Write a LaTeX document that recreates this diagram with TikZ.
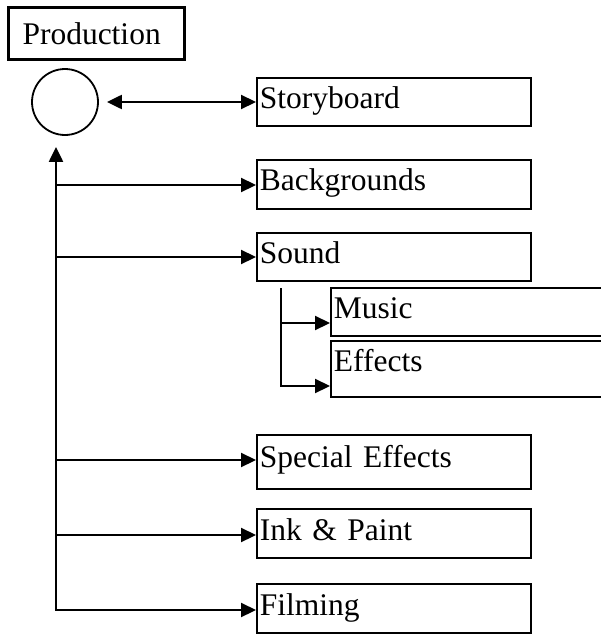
\documentclass[tikz,border=0pt]{standalone}
\usepackage{fontspec}
\setmainfont{Liberation Serif}
\usetikzlibrary{arrows.meta}
\begin{document}
\begin{tikzpicture}[x=1pt,y=-1pt,
  >={Triangle[length=15pt,width=14pt]},
  box/.style={draw, line width=1.8pt, rectangle, anchor=north west, inner xsep=3pt, inner ysep=0pt,
              text height=31pt, align=left, font=\fontsize{31.5}{36}\selectfont},
  conn/.style={line width=2.2pt}]
\clip (0,0) rectangle (601,634);
\useasboundingbox (0,0) rectangle (601,634);
% title
\node[draw, line width=3pt, rectangle, anchor=north west, inner xsep=14.5pt, inner ysep=0pt,
      text width=147pt, text height=36.5pt, text depth=15.5pt, align=left,
      font=\fontsize{31.5}{36}\selectfont] (prod) at (6.5,6.5) {Production};
\node[circle, draw, line width=1.8pt, minimum size=66pt, inner sep=0pt] (circ) at (65,102) {};
% boxes
\node[box, text width=268pt, text depth=17pt] (story) at (256,77) {Storyboard};
\node[box, text width=268pt, text depth=18pt] (bg) at (256,159) {Backgrounds};
\node[box, text width=268pt, text depth=17pt] (sound) at (256,232) {Sound};
\node[box, text width=300pt, text depth=17pt] (music) at (330,287) {Music};
\node[box, text width=300pt, text depth=25pt] (eff) at (330,340) {Effects};
\node[box, text width=268pt, text depth=21pt, text height=33pt] (spec) at (256,434) {Special Effects};
\node[box, text width=268pt, text depth=17pt, text height=32pt] (ink) at (256,508) {Ink \& Paint};
\node[box, text width=268pt, text depth=17pt, text height=32pt] (film) at (256,583) {Filming};
% connectors
\draw[conn, <->, shorten <=8pt] (circ.east) -- (story.west |- circ.east);
\coordinate (tb) at (56,610);
\coordinate (bB) at (56,185);
\coordinate (bS) at (56,257);
\coordinate (bX) at (56,460);
\coordinate (bI) at (56,535);
\draw[conn, <->, shorten >=11pt] (film.west |- tb) -- (tb) -- (tb |- circ.south);
\draw[conn, ->] (bB) -- (bg.west |- bB);
\draw[conn, ->] (bS) -- (sound.west |- bS);
\draw[conn, ->] (bX) -- (spec.west |- bX);
\draw[conn, ->] (bI) -- (ink.west |- bI);
\coordinate (sT) at (281,288);
\coordinate (sM) at (281,323);
\coordinate (sE) at (281,386);
\draw[conn, ->] (sT) -- (sE) -- (eff.west |- sE);
\draw[conn, ->] (sM) -- (music.west |- sM);
\end{tikzpicture}
\end{document}
